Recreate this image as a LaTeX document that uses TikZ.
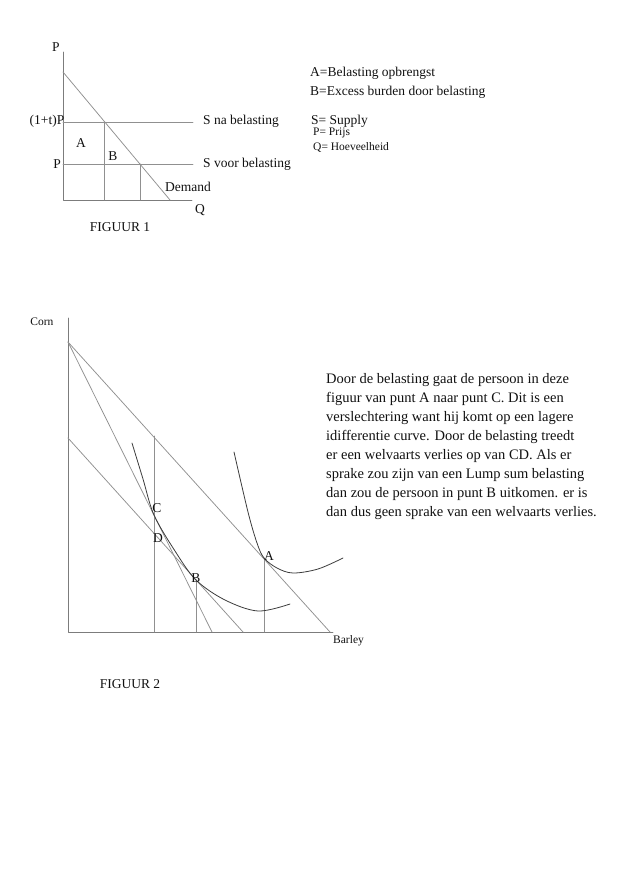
\documentclass[tikz,border=0pt]{standalone}
\usepackage{fontspec}
\setmainfont{Liberation Serif}
\usetikzlibrary{calc}
\definecolor{ink}{HTML}{111111}
\definecolor{rule}{HTML}{7C7C7C}
\definecolor{curve}{HTML}{3C3C3C}

\begin{document}
\begin{tikzpicture}[x=1pt,y=-1pt,text=ink,line cap=round,line join=round,
    axis/.style={draw=rule,line width=.8pt},
    guide/.style={draw=rule!85,line width=.75pt},
    pref/.style={draw=curve,line width=.8pt},
    lbl/.style={font=\fontsize{13.5}{15}\selectfont,inner sep=0pt},
    small/.style={font=\fontsize{11.5}{13}\selectfont,inner sep=0pt}]
  \useasboundingbox (0,0) rectangle (638,871);

  % Figuur 1: belasting bij een vlak aanbod.
  \def\yNa{122}
  \def\yVoor{164}
  \coordinate (O1) at (63,200);
  \coordinate (Ptop) at (63,52);
  \coordinate (Qend) at (192,200);
  \coordinate (Dtop) at (63,72);
  \coordinate (Dbot) at (170,200);
  \coordinate (Sna) at (193,\yNa);
  \coordinate (Svoor) at (193,\yVoor);
  \coordinate (Ena) at (intersection of Dtop--Dbot and {(63,\yNa)}--Sna);
  \coordinate (Evoor) at (intersection of Dtop--Dbot and {(63,\yVoor)}--Svoor);

  \draw[axis] (Ptop)--(O1)--(Qend);
  \draw[guide] (63,\yNa)--(Sna);
  \draw[guide] (63,\yVoor)--(Svoor);
  \draw[guide] (Dtop)--(Dbot);
  \draw[guide] (Ena)--(Ena|-O1);
  \draw[guide] (Evoor)--(Evoor|-O1);

  \node[lbl] (lP) at (56,47) {P};
  \node[lbl,anchor=east] (lPt) at (64.5,121) {(1+t)P};
  \node[lbl,anchor=east] (lPv) at (61,164) {P};
  \node[lbl] (lQ) at (200,210) {Q};
  \node[lbl] (lA) at (81,143) {A};
  \node[lbl] (lB) at (113,156) {B};
  \node[lbl,anchor=west] (lSna) at (203,121) {S na belasting};
  \node[lbl,anchor=west] (lSvoor) at (203,164) {S voor belasting};
  \node[lbl,anchor=west] (lDem) at (165,187) {Demand};
  \node[lbl] (fig1) at (120,227) {FIGUUR 1};

  \node[lbl,anchor=west] (legA) at (310,73) {A=Belasting opbrengst};
  \node[lbl,anchor=west] (legB) at (310,92) {B=Excess burden door belasting};
  \node[lbl,anchor=west] (legS) at (311,121) {S= Supply};
  \node[small,anchor=west] (legP) at (313,133) {P= Prijs};
  \node[small,anchor=west] (legQ) at (313,147) {Q= Hoeveelheid};

  % Figuur 2: budgetlijnen en indifferentiecurven.
  \coordinate (O2) at (68,632);
  \coordinate (Ctop) at (68,318);
  \coordinate (Bend) at (333,632);
  \coordinate (M) at (68,342);
  \coordinate (Mlump) at (68,438);
  \coordinate (Xoud) at (330,632);
  \coordinate (Xtax) at (212,632);
  \coordinate (Xlump) at (243,632);
  \coordinate (pA) at (264,558);
  \coordinate (pB) at (196,580);
  \coordinate (pC) at (154,515);
  \coordinate (pTop) at (154,436);

  \draw[axis] (Ctop)--(O2)--(Bend);
  \draw[guide] (M)--(Xoud);
  \draw[guide] (M)--(Xtax);
  \draw[guide] (Mlump)--(Xlump);
  \draw[guide] (pTop)--(pTop|-O2);
  \draw[guide] (pB)--(pB|-O2);
  \draw[guide] (pA)--(pA|-O2);

  \draw[pref] plot[smooth,tension=.55] coordinates
    {(132,443) (143,479) (pC) (175,551) (pB) (225,600) (258,611) (290,604)};
  \draw[pref] plot[smooth,tension=.55] coordinates
    {(234,452) (248,512) (257,543) (pA) (277,568) (293,573) (318,569) (343,558)};

  \node[small] (lCorn) at (42,322) {Corn};
  \node[small,anchor=west] (lBarley) at (333,641) {Barley};
  \node[lbl] (lC) at (157,508) {C};
  \node[lbl] (lD) at (158,538) {D};
  \node[lbl] (lBB) at (196,578) {B};
  \node[lbl] (lAA) at (269,556) {A};
  \node[lbl] (fig2) at (130,684) {FIGUUR 2};

  \node[anchor=north west,align=left,inner sep=0pt,
        font=\fontsize{14.5}{19}\selectfont] (uitleg) at (326,373)
    {Door de belasting gaat de persoon in deze\\
     figuur van punt A naar punt C. Dit is een\\
     verslechtering want hij komt op een lagere\\
     idifferentie curve. Door de belasting treedt\\
     er een welvaarts verlies op van CD. Als er\\
     sprake zou zijn van een Lump sum belasting\\
     dan zou de persoon in punt B uitkomen. er is\\
     dan dus geen sprake van een welvaarts verlies.};
\end{tikzpicture}
\end{document}
